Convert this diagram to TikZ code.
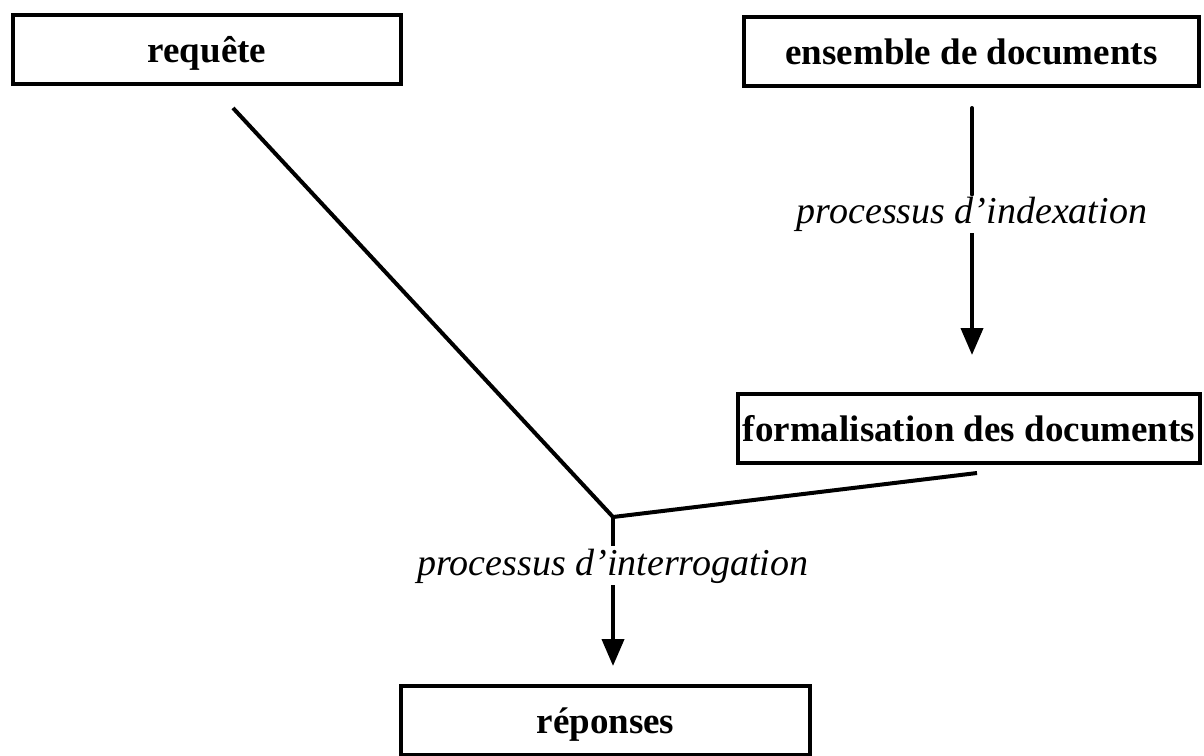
\documentclass[tikz,border=0pt]{standalone}
\usepackage{fontspec}
\setmainfont{Liberation Serif}
\usetikzlibrary{arrows.meta}
\begin{document}
\begin{tikzpicture}[x=1pt,y=-1pt,
  box/.style={draw, line width=3.5pt, minimum height=69pt, inner sep=0pt,
    text height=26pt, text depth=0pt,
    font=\fontsize{37}{40}\selectfont\bfseries},
  lab/.style={font=\fontsize{38}{40}\selectfont\itshape, inner sep=2pt, anchor=base, fill=white},
  link/.style={line width=4pt},
  flow/.style={link, -{Triangle[length=27pt,width=22pt]}}]
\useasboundingbox (0,0) rectangle (1204,755);

% boxes
\node[box, minimum width=388pt] (req)  at (207,49.5)  {requête};
\node[box, minimum width=455pt] (ens)  at (971.5,51.5) {ensemble de documents};
\node[box, minimum width=462pt] (form) at (969,428.5) {formalisation des documents};
\node[box, minimum width=409pt] (rep)  at (605.5,720.5) {réponses};

% free ends of the connectors
\coordinate (dtop)  at (233,108);
\coordinate (J)     at (613,517);
\coordinate (dright) at (977,473);
\coordinate (itop)  at (972,108);
\coordinate (itip)  at (972,355);
\coordinate (qtip)  at (613,666);

% process labels
\node[lab] (ix) at (972,223) {processus d'indexation};
\node[lab] (iq) at (613,575) {processus d'interrogation};

% indexing
\draw[link, line cap=round] (itop) -- (ix.north);
\draw[flow] (ix.south) -- (itip);

% query branch meeting the formalised documents
\draw[link, line join=miter] (dtop) -- (J) -- (dright);
\draw[link] (J) -- (iq.north);
\draw[flow] (iq.south) -- (qtip);
\end{tikzpicture}
\end{document}
